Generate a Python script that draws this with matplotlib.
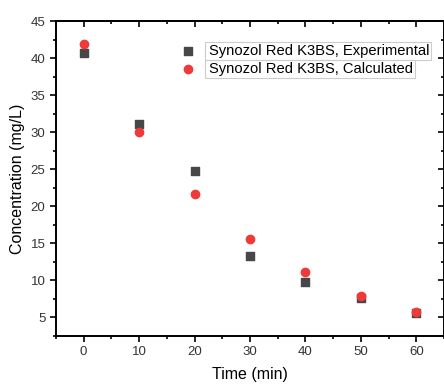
import matplotlib
matplotlib.use("Agg")
import matplotlib.pyplot as plt
from matplotlib.ticker import MultipleLocator
from matplotlib.patches import Rectangle

plt.rcParams['font.family'] = ['Liberation Sans', 'DejaVu Sans']

time = [0, 10, 20, 30, 40, 50, 60]
experimental = [40.7, 31.1, 24.7, 13.3, 9.8, 7.6, 5.6]
calculated = [41.9, 30.0, 21.6, 15.5, 11.1, 7.9, 5.7]
labels = ["Synozol Red K3BS, Experimental", "Synozol Red K3BS, Calculated"]

fig = plt.figure(figsize=(4.44, 3.84), dpi=100)
ax = fig.add_axes([0.126, 0.125, 0.874, 0.820])

ax.scatter(time, experimental, marker='s', s=32, color='#474747', label=labels[0], zorder=3)
ax.scatter(time, calculated, marker='o', s=36, color='#ee3a3a', label=labels[1], zorder=4)

ax.set_xlim(-5, 65)
ax.set_ylim(2.45, 45)
ax.xaxis.set_major_locator(MultipleLocator(10))
ax.xaxis.set_minor_locator(MultipleLocator(5))
ax.set_yticks([5, 10, 15, 20, 25, 30, 35, 40, 45])
ax.yaxis.set_minor_locator(MultipleLocator(2.5))

ax.tick_params(which='both', direction='out', width=1.2, colors='black', labelcolor='#333333', labelsize=9.5)
ax.tick_params(which='major', length=4)
ax.tick_params(which='minor', length=2.5)
for sp in ax.spines.values():
    sp.set_linewidth(1.4)

secx = ax.secondary_xaxis('top')
secx.xaxis.set_major_locator(MultipleLocator(10))
secx.xaxis.set_minor_locator(MultipleLocator(5))
secx.tick_params(which='both', direction='in', width=1.2, labeltop=False)
secx.tick_params(which='major', length=4)
secx.tick_params(which='minor', length=2.5)
secx.spines['top'].set_linewidth(1.4)
secy = ax.secondary_yaxis('right')
secy.set_yticks([5, 10, 15, 20, 25, 30, 35, 40, 45])
secy.yaxis.set_minor_locator(MultipleLocator(2.5))
secy.tick_params(which='both', direction='in', width=1.2, labelright=False)
secy.tick_params(which='major', length=4)
secy.tick_params(which='minor', length=2.5)

ax.set_xlabel("Time (min)", fontsize=11.5, labelpad=6)
ax.set_ylabel("Concentration (mg/L)", fontsize=11.5, labelpad=4)

leg = ax.legend(loc='upper left', bbox_to_anchor=(0.31, 0.938), fontsize=10.6,
                frameon=False, handletextpad=0.8, borderpad=0.2,
                labelspacing=0.3, borderaxespad=0, handlelength=1.2)

fig.canvas.draw()
renderer = fig.canvas.get_renderer()
for t in leg.get_texts():
    bb = t.get_window_extent(renderer)
    x0, y0 = fig.transFigure.inverted().transform((bb.x0 - 4, bb.y0 - 2))
    x1, y1 = fig.transFigure.inverted().transform((bb.x1 + 2, bb.y1 + 2))
    fig.add_artist(Rectangle((x0, y0), x1 - x0, y1 - y0, transform=fig.transFigure,
                             fill=False, edgecolor='#cccccc', linewidth=0.8))

fig.savefig("out.png", dpi=100)
